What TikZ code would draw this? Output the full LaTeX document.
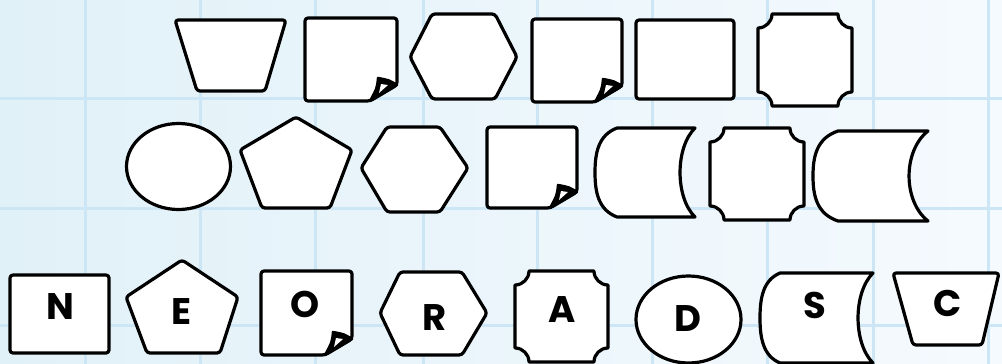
\documentclass[tikz,border=0pt]{standalone}
\usepackage{fontspec}
\setmainfont{Poppins}
\definecolor{bgleft}{HTML}{E1F1F8}
\definecolor{bgright}{HTML}{F5FAFE}
\definecolor{gridc}{HTML}{CDE6F6}
\tikzset{
  shp/.style={draw=black, fill=white, line width=3.2pt, line join=round, rounded corners=3pt},
  flap/.style={draw=black, fill=black, line width=2.4pt, line join=round},
  lbl/.style={anchor=base, inner sep=0pt, font=\fontsize{37}{37}\selectfont\bfseries},
  gridline/.style={draw=gridc, line width=3pt}
}
\newcommand\dogear[4]{%
  \path[shp] (#1,#2) -- (#3,#2) -- (#3,{#4-16}) -- ({#3-27},#4) -- (#1,#4) -- cycle;
  \path[flap] (#3,{#4-16}) .. controls ({#3-8},{#4-21}) .. ({#3-19},{#4-23})
     .. controls ({#3-20},{#4-13}) .. ({#3-27},#4) -- cycle;
  \path[fill=white] ({#3-16},{#4-17}) -- ({#3-9},{#4-16}) -- ({#3-18},{#4-8}) -- cycle;
}
\newcommand\concavebox[5]{%
  \path[shp, rounded corners=0pt] ({#1+#5},#2) -- ({#3-#5},#2)
    .. controls ({#3-#5},{#2+0.55*#5}) and ({#3-0.55*#5},{#2+#5}) .. (#3,{#2+#5})
    -- (#3,{#4-#5})
    .. controls ({#3-0.55*#5},{#4-#5}) and ({#3-#5},{#4-0.55*#5}) .. ({#3-#5},#4)
    -- ({#1+#5},#4)
    .. controls ({#1+#5},{#4-0.55*#5}) and ({#1+0.55*#5},{#4-#5}) .. (#1,{#4-#5})
    -- (#1,{#2+#5})
    .. controls ({#1+0.55*#5},{#2+#5}) and ({#1+#5},{#2+0.55*#5}) .. ({#1+#5},#2) -- cycle;
}
% x1 y1 x2 y2 leftbulge rightdepth
\newcommand\storeddata[6]{%
  \path[shp, rounded corners=0pt] ({#1+#5},#2) -- (#3,#2)
    .. controls ({#3-1.33*#6},{#2+0.22*(#4-#2)}) and ({#3-1.33*#6},{#4-0.22*(#4-#2)}) .. (#3,#4)
    -- ({#1+#5},#4)
    .. controls ({#1+0.15*#5},{#4-0.08*(#4-#2)}) and (#1,{#4-0.28*(#4-#2)}) .. (#1,{0.5*(#2+#4)})
    .. controls (#1,{#2+0.28*(#4-#2)}) and ({#1+0.15*#5},{#2+0.08*(#4-#2)}) .. ({#1+#5},#2) -- cycle;
}
\begin{document}
\begin{tikzpicture}[x=1pt, y=-1pt]
\useasboundingbox (0,0) rectangle (1002,364);
\shade[left color=bgleft, right color=bgright] (0,0) rectangle (1002,364);
% grid
\foreach \gx in {85,200,315,423,537,652,767,873,988} \path[gridline] (\gx,0) -- (\gx,364);
\foreach \gy in {98,208,325} \path[gridline] (0,\gy) -- (1002,\gy);

% ---- row 1
\path[shp] (175,20) -- (286,20) -- (265,91) -- (197,91) -- cycle;
\dogear{305}{18}{397}{101}
\path[shp] (410,57) -- (432,14) -- (495,14) -- (517,57) -- (495,99) -- (432,99) -- cycle;
\dogear{532}{19}{622}{102}
\path[shp] (636,20) rectangle (734,99);
\concavebox{758}{14}{852}{106}{14}

% ---- row 2
\path[shp] (178.5,166.5) ellipse [x radius=52, y radius=43];
\path[shp] (296,117) -- (352,150) -- (330,208) -- (262,208) -- (240,150) -- cycle;
\path[shp] (361,168) -- (387,127) -- (440,127) -- (468,168) -- (440,212) -- (387,212) -- cycle;
\dogear{487}{127}{577}{208}
\storeddata{595}{128}{695}{217}{22}{15}
\concavebox{710}{128}{804}{220}{14}
\storeddata{813}{131}{928}{221}{25}{19}

% ---- row 3 (labelled)
\path[shp] (10,275) rectangle (109,353);
\node[lbl] (n) at (60,319) {N};
\path[shp] (182,260) -- (238,297) -- (220,353) -- (147,353) -- (126,297) -- cycle;
\node[lbl] (e) at (182,324) {E};
\dogear{261}{271}{352}{355}
\node[lbl] (o) at (305,317) {O};
\path[shp] (380,313) -- (400,272) -- (462,272) -- (487,313) -- (462,355) -- (400,355) -- cycle;
\node[lbl] (r) at (435,330) {R};
\concavebox{515}{271}{608}{362}{14}
\node[lbl] (a) at (562,322) {A};
\path[shp] (688.5,319.5) ellipse [x radius=52.5, y radius=43.5];
\node[lbl] (d) at (688,331) {D};
\storeddata{760}{273}{873}{363}{20}{15}
\node[lbl] (s) at (815,318) {S};
\path[shp] (893,273) -- (999,273) -- (982,345) -- (913,345) -- cycle;
\node[lbl] (c) at (948,316) {C};
\end{tikzpicture}
\end{document}
